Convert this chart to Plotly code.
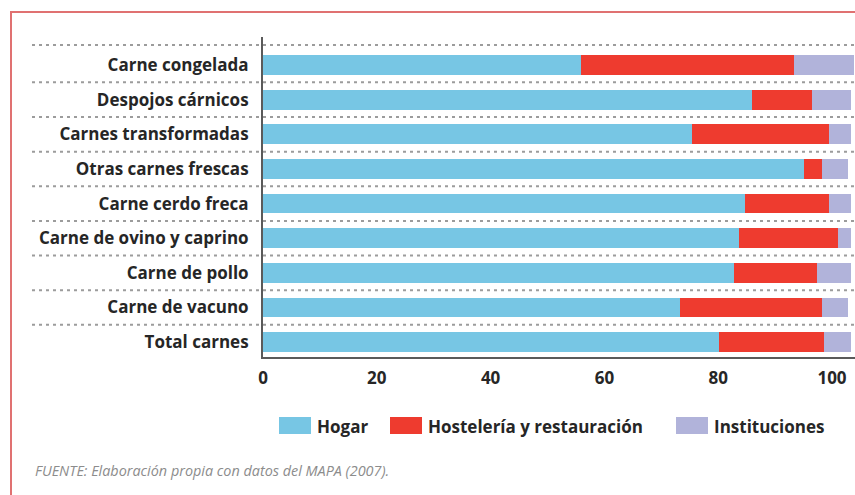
import plotly.graph_objects as go

# Meat consumption share by channel (%)
categories = [
    "Carne congelada",
    "Despojos cárnicos",
    "Carnes transformadas",
    "Otras carnes frescas",
    "Carne cerdo freca",
    "Carne de ovino y caprino",
    "Carne de pollo",
    "Carne de vacuno",
    "Total carnes",
]
hogar = [55.9, 85.9, 75.4, 95.1, 84.7, 83.7, 82.8, 73.3, 80.1]
hosteleria = [37.4, 10.6, 24.1, 3.1, 14.8, 17.4, 14.6, 24.9, 18.5]
instituciones = [10.5, 6.8, 3.8, 4.6, 3.8, 2.2, 5.9, 4.6, 4.7]

series_names = ["Hogar", "Hostelería y restauración", "Instituciones"]
series_colors = ["#77c6e4", "#ee3b2f", "#b1b3da"]
x_ticks = [0, 20, 40, 60, 80, 100]

FONT = "Open Sans"
W_FIG, H_FIG = 855, 495
L, R, T, B = 263, 855, 37, 357  # plot area in pixels
PW, PH = R - L, B - T


def px_x(px):
    return (px - L) / PW


def px_y(py):
    return (B - py) / PH


positions = list(range(len(categories)))
label_font = dict(family=FONT, size=17, color="#262626", weight=700)

fig = go.Figure()
for name, vals, col in zip(series_names, [hogar, hosteleria, instituciones], series_colors):
    fig.add_trace(go.Bar(
        y=positions, x=vals, name=name, orientation="h",
        marker=dict(color=col, line=dict(width=0)),
        width=0.57, showlegend=False,
        hovertemplate="%{text}: %{x}<extra>" + name + "</extra>",
        text=categories, textposition="none",
    ))

shapes = []
# dotted separators between rows, running under the labels too
for k in range(len(categories)):
    yb = k - 0.5 if k else -0.58
    shapes.append(dict(
        type="line", xref="paper", yref="y",
        x0=px_x(32), x1=1.0, y0=yb, y1=yb,
        line=dict(color="#9c9c9c", width=2, dash="3px,4px"),
        layer="below",
    ))

# red frame around the figure
shapes.append(dict(
    type="rect", xref="paper", yref="paper",
    x0=px_x(11), x1=px_x(900), y0=px_y(12), y1=px_y(540),
    line=dict(color="#e07171", width=2), fillcolor="rgba(0,0,0,0)",
))

annotations = []
# legend built from swatches and labels
legend_items = [(279, 315), (390, 426), (676, 712)]
for (sx, tx), name, col in zip(legend_items, series_names, series_colors):
    shapes.append(dict(
        type="rect", xref="paper", yref="paper",
        x0=px_x(sx), x1=px_x(sx + 32), y0=px_y(434), y1=px_y(417),
        line=dict(width=0), fillcolor=col,
    ))
    annotations.append(dict(
        xref="paper", yref="paper", x=px_x(tx), y=px_y(426),
        xanchor="left", yanchor="middle", showarrow=False,
        text=name, font=label_font,
    ))

annotations.append(dict(
    xref="paper", yref="paper", x=px_x(33), y=px_y(470),
    xanchor="left", yanchor="middle", showarrow=False,
    text="FUENTE: Elaboración propia con datos del MAPA (2007).",
    font=dict(family=FONT, size=14.4, color="#8c8c8c", style="italic"),
))

fig.update_layout(
    width=W_FIG, height=H_FIG,
    margin=dict(l=L, r=W_FIG - R, t=T, b=H_FIG - B, pad=0),
    paper_bgcolor="white", plot_bgcolor="white",
    barmode="stack",
    shapes=shapes, annotations=annotations,
    showlegend=False,
    xaxis=dict(
        range=[0, PW / 5.69], tickvals=x_ticks,
        showgrid=False, zeroline=False,
        showline=True, linecolor="#5a5a5a", linewidth=2,
        ticks="", ticklabelstandoff=5,
        tickfont=label_font,
    ),
    yaxis=dict(
        range=[8.43, -0.81], tickvals=positions, ticktext=categories,
        showgrid=False, zeroline=False,
        showline=True, linecolor="#5a5a5a", linewidth=2,
        ticks="", ticklabelstandoff=9,
        tickfont=label_font,
    ),
)

fig.write_html("out.html")
